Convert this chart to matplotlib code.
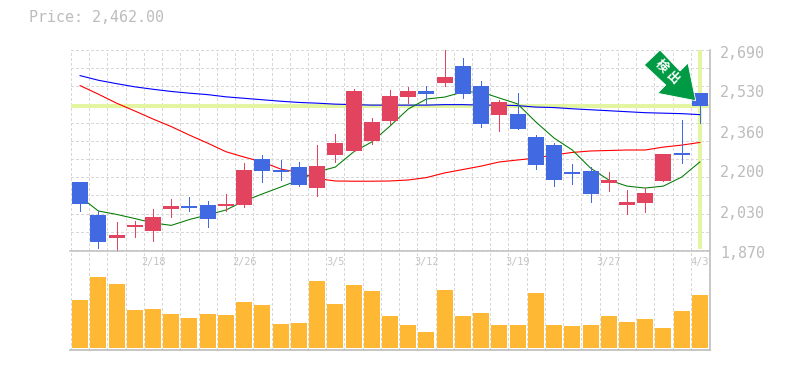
import matplotlib
matplotlib.use("Agg")
import matplotlib.pyplot as plt
from matplotlib.patches import Polygon, Rectangle

W, H = 785, 370
plt.rcParams["font.family"] = ["DejaVu Sans Mono", "Noto Sans CJK JP"]

# Values
opens = [2149, 2014, 1919, 1964, 1948, 2038, 2050, 2054, 2050, 2054, 2243, 2196, 2210, 2124, 2260,
         2276, 2317, 2399, 2497, 2522, 2555, 2624, 2542, 2423, 2428, 2333, 2300, 2190, 2194, 2145,
         2054, 2063, 2153, 2268, 2514]
closes = [2060, 1904, 1931, 1972, 2005, 2050, 2042, 1997, 2059, 2198, 2194, 2189, 2136, 2214, 2309,
          2522, 2395, 2501, 2522, 2510, 2579, 2510, 2387, 2477, 2366, 2219, 2157, 2182, 2100, 2157,
          2067, 2104, 2264, 2260, 2462]
highs = [2149, 2030, 1985, 1989, 2038, 2079, 2087, 2071, 2100, 2227, 2259, 2239, 2231, 2300, 2346,
         2530, 2411, 2526, 2538, 2542, 2690, 2657, 2563, 2485, 2514, 2341, 2309, 2223, 2210, 2190,
         2116, 2124, 2264, 2403, 2514]
lows = [2031, 1879, 1867, 1923, 1907, 2005, 2030, 1964, 2030, 2046, 2149, 2157, 2132, 2091, 2231,
        2276, 2305, 2387, 2473, 2469, 2542, 2493, 2374, 2358, 2366, 2202, 2132, 2141, 2067, 2112,
        2018, 2026, 2153, 2227, 2391]
volumes = [48, 71, 64, 38, 39, 34, 30, 34, 33, 46, 43, 24, 25, 67, 44, 63, 57, 32,
           23, 16, 58, 32, 35, 23, 23, 55, 23, 22, 23, 32, 26, 29, 20, 37, 53]
ma_long = [2585, 2566, 2552, 2539, 2529, 2520, 2513, 2507, 2498, 2492, 2486, 2480, 2475, 2472, 2468,
           2466, 2464, 2464, 2464, 2464, 2466, 2466, 2464, 2464, 2462, 2456, 2454, 2449, 2445, 2441,
           2437, 2433, 2431, 2429, 2425]
ma_mid = [2544, 2509, 2472, 2440, 2407, 2376, 2341, 2308, 2273, 2251, 2231, 2202, 2188, 2163, 2153,
          2152, 2152, 2153, 2157, 2167, 2186, 2200, 2214, 2231, 2239, 2247, 2260, 2270, 2276, 2278,
          2280, 2280, 2292, 2300, 2311]
ma_short = [2088, 2030, 2016, 1999, 1981, 1971, 1995, 2014, 2034, 2071, 2100, 2128, 2157, 2190, 2210,
            2272, 2313, 2378, 2448, 2489, 2497, 2518, 2518, 2493, 2469, 2395, 2329, 2280, 2206, 2157,
            2132, 2124, 2132, 2169, 2231]
date_labels = ["2/18", "2/26", "3/5", "3/12", "3/19", "3/27", "4/3"]
date_positions = [4, 9, 14, 19, 24, 29, 34]
price_ticks = [2690, 2530, 2360, 2200, 2030, 1870]
price_labels = ["2,690", "2,530", "2,360", "2,200", "2,030", "1,870"]
price_text = "Price: 2,462.00"
highlight_price = 2462
highlight_index = 34
badge_text = ["検", "出"]

RED, BLUE = "#E2435F", "#4169E1"
GRID, EDGE, TXT = "#d8d8d8", "#c0c0c0", "#bcbcbc"
HILITE = "#E3F5A0"
n = len(closes)
THIN = 0.5

fig = plt.figure(figsize=(W / 100, H / 100), dpi=100, facecolor="white")


def axes_px(x0, y0, x1, y1):
    return fig.add_axes([x0 / W, 1 - y1 / H, (x1 - x0) / W, (y1 - y0) / H])


ax = axes_px(71, 50, 709, 250)
axv = axes_px(71, 250, 709, 350)
grid_kw = dict(color=GRID, lw=THIN, ls=(0, (3.7, 3.7)), zorder=1, clip_on=False, antialiased=False)
for a in (ax, axv):
    a.set_xlim(-0.5, n - 0.5)
    a.patch.set_alpha(0)
    a.tick_params(length=0, labelleft=False, labelbottom=False, left=False, bottom=False)
    for s in a.spines.values():
        s.set_visible(False)
    for i in range(n + 1):
        a.axvline(i - 0.5, **grid_kw)
ax.set_ylim(1870, 2690)
axv.set_ylim(-2, 98)

for k in range(12):
    ax.axhline(1870 + k * 820 / 11, **grid_kw)

ax.axhline(highlight_price, color=HILITE, lw=2.9, zorder=2, snap=True)
ax.plot([highlight_index, highlight_index], [1875, 2690], color=HILITE, lw=2.9, zorder=2,
        solid_capstyle="butt", snap=True)

xs = list(range(n))
ax.plot(xs, ma_long, color="#0000FF", lw=0.8, zorder=3)
ax.plot(xs, ma_mid, color="#FF0000", lw=0.8, zorder=3)
ax.plot(xs, ma_short, color="#007A00", lw=0.75, zorder=3)

bw = 16 / 18.23
for i in xs:
    c = RED if closes[i] > opens[i] else BLUE
    ax.plot([i, i], [lows[i], highs[i]], color=c, lw=THIN, zorder=4, solid_capstyle="butt",
            clip_on=False, antialiased=False)
    lo, hi = min(opens[i], closes[i]), max(opens[i], closes[i])
    ax.add_patch(Rectangle((i - bw / 2, lo), bw, hi - lo, facecolor=c, edgecolor="none", zorder=5,
                           antialiased=False))

axv.bar(xs, volumes, width=bw, bottom=0, color="#FFB833", zorder=3, antialiased=False)

# frame lines, figure pixels
fig.add_artist(plt.Line2D([70 / W, 710 / W], [1 - 250.5 / H] * 2, color=EDGE, lw=1.1))
fig.add_artist(plt.Line2D([70 / W, 710 / W], [1 - 350 / H] * 2, color=EDGE, lw=1.3))
fig.add_artist(plt.Line2D([710 / W, 710 / W], [1 - 50 / H, 1 - 350 / H], color=EDGE, lw=1.2))

# texts
fig.text(29 / W, 1 - 18 / H, price_text, color=TXT, fontsize=10.8, va="center", ha="left")
for v, s in zip(price_ticks, price_labels):
    y_px = 50 + (2690 - v) / 4.1 + 3
    fig.text(720 / W, 1 - y_px / H, s, color=TXT, fontsize=10.8, va="center", ha="left")
for p, s in zip(date_positions, date_labels):
    x_px = 71 + (p + 0.5) * 638 / n
    fig.text(x_px / W, 1 - 262 / H, s, color="#c4c4c4", fontsize=7.4, va="center", ha="center")

# badge arrow
pts = [(644.3, 65), (660, 50), (680, 71), (688, 63), (695.7, 100.7), (657.7, 93.3), (665.7, 85)]
fig.add_artist(Polygon([(x / W, 1 - y / H) for x, y in pts], closed=True, transform=fig.transFigure,
                       facecolor="#009944", edgecolor="white", lw=0.6, zorder=10))
for (x, y), s in zip([(661, 66), (672, 78)], badge_text):
    fig.text(x / W, 1 - y / H, s, color="white", fontsize=9, rotation=-45, ha="center", va="center",
             family=["Noto Sans CJK JP"], fontweight="bold", zorder=11)

fig.savefig("out.png", dpi=100)
